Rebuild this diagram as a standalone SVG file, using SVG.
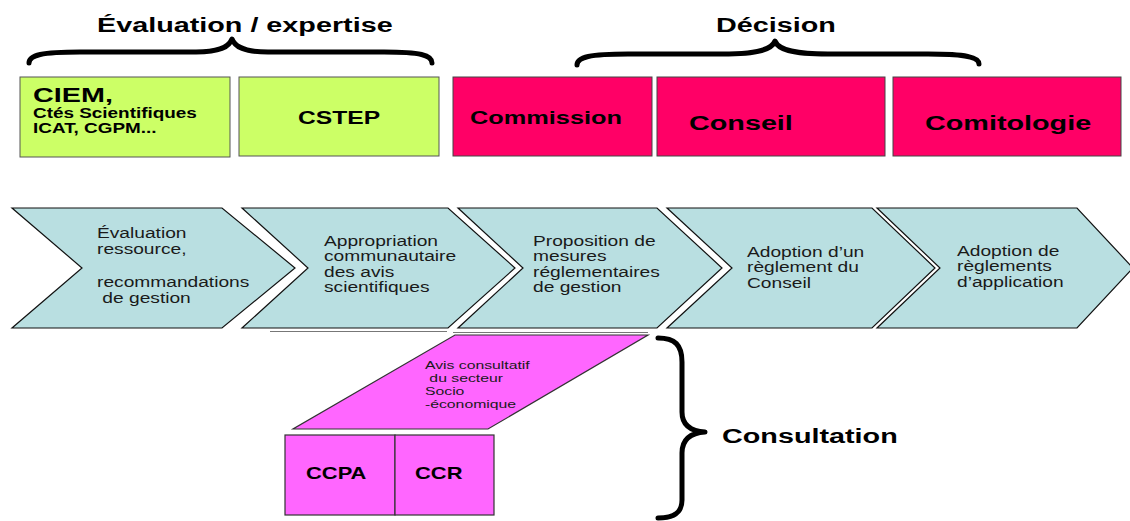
<svg xmlns="http://www.w3.org/2000/svg" width="1130" height="521" viewBox="0 0 1130 521">
<style>
  .t { font-family: "Liberation Sans", Arial, sans-serif; fill: #000; }
  .b { font-weight: bold; }
  .r { fill: #1a1a1a; }
  .green { fill: #CCFF66; stroke: #555; stroke-width: 1; }
  .pink { fill: #FF0066; stroke: #444; stroke-width: 1; }
  .chev { fill: #B9DFE1; stroke: #111; stroke-width: 1.2; stroke-linejoin: miter; }
  .mag { fill: #FF66FF; stroke: #333; stroke-width: 1.2; }
  .brace { fill: none; stroke: #000; stroke-width: 5; stroke-linecap: round; stroke-linejoin: round; }
</style>

<g id="title-evaluation">
  <text class="t b" font-size="21" transform="translate(97,32) scale(1.37,1)">Évaluation / expertise</text>
</g>
<g id="title-decision">
  <text class="t b" font-size="21" transform="translate(716,32) scale(1.37,1)">Décision</text>
</g>

<g id="connectors">
  <path class="brace" d="M29 63 C29 55 42 52 80 52 L196 52 C220 52 229 47 232 39 C235 47 244 52 268 52 L384 52 C420 52 432 55 432 63"/>
  <path class="brace" d="M577 65 C577 57 590 54 628 54 L722 54 C760 54 772 49 775 41 C778 49 790 54 828 54 L928 54 C966 54 979 57 979 64"/>
  <path class="brace" d="M658 338 C675 338 682 345 682 362 L682 412 C682 425 690 431 705 432 C690 433 682 440 682 453 L682 500 C682 512 675 518 658 518"/>
  <line x1="270" y1="331.5" x2="447" y2="331.5" stroke="#777" stroke-width="1.2"/>
  <line x1="453" y1="332.5" x2="648" y2="332.5" stroke="#777" stroke-width="1.2"/>
</g>

<g id="node-ciem">
  <rect class="green" x="20" y="77" width="210" height="80"/>
  <text class="t b" font-size="21" transform="translate(33,102) scale(1.37,1)">CIEM,</text>
  <text class="t b" font-size="13.8" transform="translate(33,118) scale(1.37,1)"><tspan x="0" y="0">Ctés Scientifiques</tspan><tspan x="0" y="15">ICAT, CGPM...</tspan></text>
</g>
<g id="node-cstep">
  <rect class="green" x="239" y="77" width="200" height="79"/>
  <text class="t b" font-size="18" transform="translate(298,124) scale(1.37,1)">CSTEP</text>
</g>
<g id="node-commission">
  <rect class="pink" x="453" y="77" width="199" height="79"/>
  <text class="t b" font-size="18.5" transform="translate(470,124) scale(1.37,1)">Commission</text>
</g>
<g id="node-conseil">
  <rect class="pink" x="657" y="77" width="228" height="79"/>
  <text class="t b" font-size="21" transform="translate(689,130) scale(1.37,1)">Conseil</text>
</g>
<g id="node-comitologie">
  <rect class="pink" x="893" y="77" width="228" height="79"/>
  <text class="t b" font-size="21" transform="translate(925,130) scale(1.37,1)">Comitologie</text>
</g>

<g id="step-1">
  <polygon class="chev" points="12,208 222,208 295,268 222,328 12,328 82,268"/>
  <text class="t r" font-size="14" xml:space="preserve" transform="translate(97,238) scale(1.37,1)"><tspan x="0" y="0">Évaluation</tspan><tspan x="0" y="16">ressource,</tspan><tspan x="0" y="49">recommandations</tspan><tspan x="0" y="65"> de gestion</tspan></text>
</g>
<g id="step-2">
  <polygon class="chev" points="242,208 448,208 515,268 448,328 242,328 308,268"/>
  <text class="t r" font-size="14" transform="translate(324,246) scale(1.37,1)"><tspan x="0" y="0">Appropriation</tspan><tspan x="0" y="15.5">communautaire</tspan><tspan x="0" y="31">des avis</tspan><tspan x="0" y="46.5">scientifiques</tspan></text>
</g>
<g id="step-3">
  <polygon class="chev" points="458,208 657,208 722,268 657,328 458,328 523,268"/>
  <text class="t r" font-size="14" transform="translate(533,246) scale(1.37,1)"><tspan x="0" y="0">Proposition de</tspan><tspan x="0" y="15.5">mesures</tspan><tspan x="0" y="31">réglementaires</tspan><tspan x="0" y="46.5">de gestion</tspan></text>
</g>
<g id="step-4">
  <polygon class="chev" points="667,208 872,208 935,268 872,328 667,328 732,268"/>
  <text class="t r" font-size="14" transform="translate(747,257) scale(1.37,1)"><tspan x="0" y="0">Adoption d’un</tspan><tspan x="0" y="15.5">règlement du</tspan><tspan x="0" y="31">Conseil</tspan></text>
</g>
<g id="step-5">
  <polygon class="chev" points="877,208 1077,208 1133,268 1077,328 877,328 940,268"/>
  <text class="t r" font-size="14" transform="translate(957,256) scale(1.37,1)"><tspan x="0" y="0">Adoption de</tspan><tspan x="0" y="15.5">règlements</tspan><tspan x="0" y="31">d’application</tspan></text>
</g>

<g id="node-avis">
  <polygon class="mag" points="455,335 648,335 488,429 293,429"/>
  <text class="t r" font-size="11.5" xml:space="preserve" transform="translate(425,369) scale(1.37,1)"><tspan x="0" y="0">Avis consultatif</tspan><tspan x="0" y="13"> du secteur</tspan><tspan x="0" y="26">Socio</tspan><tspan x="0" y="39">-économique</tspan></text>
</g>
<g id="node-ccpa">
  <rect class="mag" x="285" y="435" width="110" height="80"/>
  <text class="t b" font-size="16" transform="translate(306,479) scale(1.37,1)">CCPA</text>
</g>
<g id="node-ccr">
  <rect class="mag" x="395" y="435" width="99" height="80"/>
  <text class="t b" font-size="16" transform="translate(415,479) scale(1.37,1)">CCR</text>
</g>
<g id="label-consultation">
  <text class="t b" font-size="21" transform="translate(722,443) scale(1.37,1)">Consultation</text>
</g>
</svg>
